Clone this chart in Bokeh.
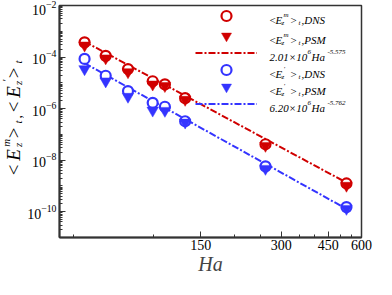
import math
from bokeh.plotting import figure
from bokeh.layouts import row
from bokeh.models import (Range1d, FixedTicker, CustomJSTickFormatter, LogTickFormatter,
                          Label, Legend, LegendItem)
from bokeh.embed import file_html
from bokeh.resources import INLINE

# ---------------- data ----------------
Ha = [55, 66, 80, 99, 110, 131, 262, 527]
Em_DNS = [3.73e-4, 1.11e-4, 3.43e-5, 1.15e-5, 8.7e-6, 2.54e-6, 4.15e-8, 1.25e-9]
Em_PSM = [2.84e-4, 9.0e-5, 2.62e-5, 8.7e-6, 7.6e-6, 2.22e-6, 3.64e-8, 1.03e-9]
Ep_DNS = [8.49e-5, 1.88e-5, 4.77e-6, 1.68e-6, 1.18e-6, 3.24e-7, 5.77e-9, 1.51e-10]
Ep_PSM = [3.43e-5, 1.15e-5, 2.91e-6, 8.5e-7, 8.3e-7, 2.91e-7, 4.66e-9, 1.31e-10]

fit_coef = [2.01e6, 6.20e5]
fit_exp = [-5.575, -5.762]
fit_coef_text = ["2.01", "6.20"]
fit_pow_text = ["6", "6"]
fit_exp_text = ["-5.575", "-5.762"]

x_ticks = [150, 300, 450, 600]
x_tick_labels = ["150", "300", "450", "600"]
x_minor = [50, 100, 200, 250, 350, 400, 500, 550]

y_ticks = [1e-2, 1e-4, 1e-6, 1e-8, 1e-10]
y_minor = [m * 10.0 ** e for e in range(-11, -2) for m in range(1, 10)
           if not (m == 1 and e % 2 == 0)]

RED = "#d00000"
BLUE = "#3434ff"
FONT = "Liberation Serif"

W, H = 376, 279
LW = 24                      # width of the y-label strip
W2 = W - LW
BL, BR, BT, BB = 35, 15, 5, 42
FW, FH = W2 - BL - BR, H - BT - BB

p = figure(width=W2, height=H, x_axis_type="log", y_axis_type="log",
           x_range=Range1d(44.3, 600), y_range=Range1d(1e-11, 1e-2),
           output_backend="svg", toolbar_location=None,
           min_border_left=BL, min_border_right=BR, min_border_top=BT, min_border_bottom=BB)
p.grid.visible = False
p.outline_line_color = "#333333"
p.outline_line_width = 1.5
p.background_fill_color = "white"
p.border_fill_color = "white"

for ax in (p.xaxis[0], p.yaxis[0]):
    ax.axis_line_width = 2
    ax.axis_line_color = "#333333"
    ax.major_tick_line_color = "#333333"
    ax.minor_tick_line_color = "#333333"
    ax.major_tick_in = 6
    ax.major_tick_out = 0
    ax.minor_tick_in = 3
    ax.minor_tick_out = 0
    ax.major_label_text_font = FONT
    ax.major_label_text_font_size = "14px"
    ax.major_label_text_color = "black"

LOOKUP = """
for (let i = 0; i < tv.length; i++) {
    if (Math.abs(tv[i] - tick) < 1e-6 * tv[i]) return tl[i];
}
return "";
"""
p.xaxis[0].ticker = FixedTicker(ticks=x_ticks, minor_ticks=x_minor)
p.xaxis[0].formatter = CustomJSTickFormatter(args=dict(tv=x_ticks, tl=x_tick_labels), code=LOOKUP)
p.xaxis[0].major_label_standoff = 2
p.xaxis[0].axis_label = "Ha"
p.xaxis[0].axis_label_text_font = FONT
p.xaxis[0].axis_label_text_font_style = "italic"
p.xaxis[0].axis_label_text_font_size = "20px"
p.xaxis[0].axis_label_standoff = 0
p.yaxis[0].ticker = FixedTicker(ticks=y_ticks, minor_ticks=y_minor)
p.yaxis[0].formatter = LogTickFormatter()
p.yaxis[0].major_label_standoff = 3

# fit lines
fit_x = [Ha[0], Ha[-1]]
fits = []
for c, e, col in zip(fit_coef, fit_exp, (RED, BLUE)):
    fy = [c * h ** e for h in fit_x]
    fits.append(p.line(fit_x, fy, line_color=col, line_width=2, line_dash="7 2 2 2"))

r_em_dns = p.scatter(Ha, Em_DNS, marker="circle", size=10, line_color=RED, line_width=2.2,
                     fill_color="white")
r_ep_dns = p.scatter(Ha, Ep_DNS, marker="circle", size=10, line_color=BLUE, line_width=2.2,
                     fill_color="white")
r_em_psm = p.scatter(Ha, Em_PSM, marker="inverted_triangle", size=11.5, line_color=RED,
                     line_width=0.5, fill_color=RED)
r_ep_psm = p.scatter(Ha, Ep_PSM, marker="inverted_triangle", size=11.5, line_color=BLUE,
                     line_width=0.5, fill_color=BLUE)

# legend: one single-row legend per entry so rows can sit close together
GH, GW = 25, 62
row_c = [10, 30, 47, 64, 81, 98]          # row centres, px below frame top
GX = 167 - GW / 2                          # glyph box left, px from frame left
for rc, rend in zip(row_c, [r_em_dns, r_em_psm, fits[0], r_ep_dns, r_ep_psm, fits[1]]):
    lg = Legend(items=[LegendItem(label=" ", renderers=[rend])],
                location=(GX, FH - rc - GH / 2), glyph_width=GW, glyph_height=GH,
                label_height=10, label_width=1, label_standoff=0, label_text_font_size="1px",
                padding=0, margin=0, spacing=0, border_line_alpha=0, background_fill_alpha=0)
    p.add_layout(lg, "center")


def put(fig, text, x, y, size, italic=True, angle=0.0, align="left", baseline="alphabetic",
        units="screen", yoff=0.0):
    fig.add_layout(Label(x=x, y=y, x_units=units, y_units=units, text=text, y_offset=yoff,
                         text_font=FONT, text_font_style="italic" if italic else "normal",
                         text_font_size=f"{size}px", text_color="black", angle=angle,
                         text_align=align, text_baseline=baseline))


# legend texts
TX = 210
MS, SS = 11, 7


def energy_row(yc, sup, tail):
    yb = FH - (yc + 4)
    put(p, "<", TX, yb, MS, italic=False)
    put(p, "E", TX + 6, yb, MS)
    put(p, sup, TX + 14, yb + 5, SS)
    put(p, "z", TX + 12, yb - 3, SS)
    put(p, ">", TX + 21, yb, MS, italic=False)
    put(p, "t", TX + 29, yb - 3, SS)
    put(p, tail, TX + 32, yb, MS)


def fit_row(yc, k):
    yb = FH - (yc + 4)
    put(p, fit_coef_text[k] + "\u00d710", TX, yb, MS)
    put(p, fit_pow_text[k], TX + 38, yb + 5, SS)
    put(p, "Ha", TX + 42, yb, MS)
    put(p, fit_exp_text[k], TX + 58, yb + 5, SS)


energy_row(row_c[0], "m", " ,DNS")
energy_row(row_c[1], "m", " ,PSM")
fit_row(row_c[2], 0)
energy_row(row_c[3], "'", " ,DNS")
energy_row(row_c[4], "'", " ,PSM")
fit_row(row_c[5], 1)

# y-axis label strip (rotated rich text); its frame is aligned with the main frame,
# so y is a fraction of the frame height plus a pixel offset
lab = figure(width=LW, height=H, x_range=Range1d(0, LW), y_range=Range1d(0, 1),
             output_backend="svg", toolbar_location=None, min_border=0,
             x_axis_location=None, y_axis_location=None)
lab.grid.visible = False
lab.outline_line_color = None
lab.background_fill_color = "white"
lab.border_fill_color = "white"

A = math.pi / 2
XM, XS, XB = 12.5, 5.5, 17     # main, superscript, subscript centres (across)
Y0 = 0.27                      # bottom of the label as a fraction of the frame height
pieces = [("<", XM, 5, 19, False), ("E", XM, 20, 19, True), ("z", XB, 30, 11, True),
          ("m", XS, 32, 11, True), (">", XM, 42, 19, False), ("t", XB, 53, 11, True),
          (",", XB - 1, 58, 14, True), ("<", XM, 68, 19, False), ("E", XM, 83, 19, True),
          ("z", XB, 92, 11, True), ("'", XS, 94, 11, True), (">", XM, 102, 19, False),
          ("t", XB, 113, 11, True)]
for t, xx, dy, sz, it in pieces:
    put(lab, t, xx, Y0, sz, italic=it, angle=A, align="center", baseline="middle",
        units="data", yoff=dy)

layout = row(lab, p, spacing=0)
open("out.html", "w").write(file_html(layout, INLINE))
